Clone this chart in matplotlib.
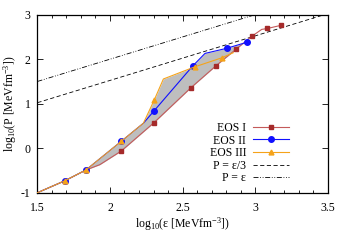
import numpy as np
import matplotlib
matplotlib.use('Agg')
import matplotlib.pyplot as plt
from matplotlib.ticker import MultipleLocator

plt.rcParams['font.family'] = 'Liberation Serif'
plt.rcParams['mathtext.fontset'] = 'custom'
plt.rcParams['mathtext.rm'] = 'Liberation Serif'
plt.rcParams['mathtext.it'] = 'Liberation Serif:italic'
plt.rcParams['axes.unicode_minus'] = False
plt.rcParams['font.size'] = 8.5

# log10(eps), log10(P)
eos1_x = [1.5, 1.69, 1.834, 1.93, 2.078, 2.303, 2.556, 2.731, 2.867, 2.98, 3.046, 3.085, 3.177]
eos1_y = [-1.0, -0.73, -0.49, -0.37, -0.063, 0.573, 1.353, 1.854, 2.22, 2.52, 2.67, 2.69, 2.76]

eos2_x = [1.5, 1.69, 1.834, 2.078, 2.23, 2.303, 2.570, 2.655, 2.805, 2.943]
eos2_y = [-1.0, -0.73, -0.49, 0.155, 0.56, 0.836, 1.847, 2.13, 2.245, 2.38]

eos3_x = [1.5, 1.69, 1.834, 2.078, 2.23, 2.305, 2.368, 2.586, 2.77, 2.85]
eos3_y = [-1.0, -0.73, -0.49, 0.155, 0.56, 1.083, 1.555, 1.83, 2.03, 2.146]

eps_line = np.array([1.5, 3.5])

fig = plt.figure(figsize=(3.5, 2.45), dpi=100)
ax = fig.add_axes([0.107, 0.2135, 0.829, 0.7265])

# grey band between the softest and the stiffest EOS
xs = np.union1d(np.union1d(eos1_x, eos2_x), eos3_x)
xs = np.union1d(xs, np.linspace(1.5, eos2_x[-1], 400))
xs = xs[xs <= eos2_x[-1]]
up3 = np.interp(xs, eos3_x, eos3_y, right=np.nan)
up2 = np.interp(xs, eos2_x, eos2_y)
upper = np.fmax(up2, up3)
lower = np.interp(xs, eos1_x, eos1_y)
ax.fill_between(xs, lower, upper, color='#bebebe', lw=0, zorder=1)

ax.plot(eos1_x, eos1_y, color='#c45a5a', lw=0.8, marker='s', ms=2.8,
        mfc='#a52a2a', mec='#a52a2a',
        markevery=[1, 2, 4, 5, 6, 7, 8, 9, 11, 12], label='EOS I', zorder=3)
ax.plot(eos2_x, eos2_y, color='#1010ff', lw=0.8, marker='o', ms=4,
        markevery=[1, 2, 3, 5, 6, 8, 9], label='EOS II', zorder=4)
ax.plot(eos3_x, eos3_y, color='#f5a31a', lw=0.8, marker='^', ms=3.5,
        markevery=[1, 2, 3, 5, 7, 8], label='EOS III', zorder=5)
ax.plot(eps_line, eps_line - np.log10(3), color='k', lw=0.6, ls=(0, (5, 3)),
        label='P = ε/3', zorder=2)
ax.plot(eps_line, eps_line, color='k', lw=0.6, ls=(0, (6, 2, 1, 2, 1, 2)),
        label='P = ε', zorder=2)

ax.set_xlim(1.5, 3.5)
ax.set_ylim(-1, 3)
ax.set_xticks([1.5, 2, 2.5, 3, 3.5])
ax.set_xticklabels(['1.5', '2', '2.5', '3', '3.5'])
ax.xaxis.set_minor_locator(MultipleLocator(0.1))
ax.yaxis.set_major_locator(MultipleLocator(1))
ax.tick_params(which='both', direction='in', top=True, right=True, width=0.6)
ax.tick_params(which='major', length=4.5)
ax.tick_params(which='minor', length=2.5)
ax.tick_params(axis='x', pad=7)
ax.tick_params(axis='y', pad=5)
for s in ax.spines.values():
    s.set_linewidth(0.9)

ax.set_xlabel(r'log$_{10}$(ε [MeVfm$^{-3}$])', labelpad=1)
ax.set_ylabel(r'log$_{10}$(P [MeVfm$^{-3}$])', labelpad=1.5)

# markerfirst=False: text on the left, right-aligned against the samples
ax.legend(loc='upper right', bbox_to_anchor=(0.866, 0.397), frameon=False,
          markerfirst=False, handlelength=3.0, labelspacing=0.05,
          borderaxespad=0, handletextpad=0.6, borderpad=0)

fig.savefig('out.png', dpi=100)
